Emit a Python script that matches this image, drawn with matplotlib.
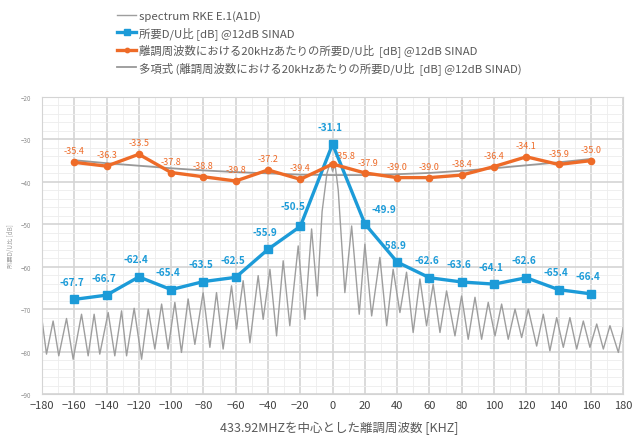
import matplotlib
matplotlib.use("Agg")
import matplotlib.pyplot as plt
from matplotlib.ticker import MultipleLocator

plt.rcParams['font.family'] = ['Noto Sans CJK JP', 'DejaVu Sans']

spec_x = [-180, -177.2, -173.1, -169.6, -164.8, -160.7, -155.5, -151.4, -147.7, -144.2,
          -139.0, -134.9, -130.7, -127.6, -122.9, -118.3, -114.2, -110.1, -105.9, -101.9,
          -97.7, -93.6, -89.5, -85.3, -80.2, -76.0, -71.9, -67.8, -62.6, -59.5,
          -55.4, -51.2, -46.1, -43.0, -38.8, -34.7, -30.6, -26.5, -21.3, -17.2,
          -13.0, -9.5, -6.5, -3.5, -1.5, 0, 1.5, 3.5, 7.6, 11.8,
          16.5, 20.0, 24.2, 29.3, 33.5, 37.5, 41.7, 45.8, 49.9, 54.1,
          58.2, 62.3, 66.5, 70.6, 75.8, 79.9, 84.0, 88.2, 92.3, 96.4,
          100.6, 104.7, 108.8, 113.0, 117.1, 121.2, 126.4, 130.5, 134.6, 138.8,
          142.9, 147.0, 151.2, 155.3, 159.4, 163.6, 167.7, 171.8, 177.0, 180]
spec_y = [-72.4, -80.6, -72.8, -81.0, -72.2, -81.8, -71.2, -81.0, -71.2, -80.6,
          -70.8, -81.0, -70.4, -81.0, -69.8, -81.8, -70.0, -79.4, -68.8, -79.4,
          -68.4, -80.2, -67.6, -78.3, -66.1, -79.0, -66.1, -79.4, -64.5, -74.7,
          -63.3, -77.9, -62.1, -72.4, -60.6, -76.3, -58.6, -73.9, -55.1, -72.4,
          -51.1, -66.9, -47.0, -38.0, -35.5, -37.5, -35.8, -42.0, -66.1, -50.4,
          -71.2, -54.7, -71.6, -57.8, -73.9, -60.6, -70.8, -61.3, -75.5, -62.9,
          -73.9, -64.1, -75.5, -65.7, -76.3, -66.9, -77.1, -67.2, -77.1, -68.4,
          -76.3, -68.8, -77.1, -70.0, -76.7, -70.0, -78.7, -71.2, -79.8, -72.0,
          -79.0, -72.0, -79.4, -72.8, -79.0, -73.5, -79.4, -73.9, -80.2, -74.3]

offsets = [-160, -140, -120, -100, -80, -60, -40, -20, 0,
           20, 40, 60, 80, 100, 120, 140, 160]
du_ratio = [-67.7, -66.7, -62.4, -65.4, -63.5, -62.5, -55.9, -50.5, -31.1,
            -49.9, -58.9, -62.6, -63.6, -64.1, -62.6, -65.4, -66.4]
du_per20k = [-35.4, -36.3, -33.5, -37.8, -38.8, -39.8, -37.2, -39.4, -35.8,
             -37.9, -39.0, -39.0, -38.4, -36.4, -34.1, -35.9, -35.0]
trend = [-34.9, -35.6, -36.2, -36.8, -37.3, -37.7, -38.0, -38.3, -38.4,
         -38.4, -38.2, -37.9, -37.4, -36.8, -36.1, -35.4, -34.6]

BLUE = '#1c9bd8'
ORANGE = '#ee6b28'

fig = plt.figure(figsize=(6.38, 4.39), dpi=100)
ax = fig.add_axes([0.0658, 0.1002, 0.911, 0.6766])

l1, = ax.plot(spec_x, spec_y, color='#9e9e9e', lw=1.0,
              label='spectrum RKE E.1(A1D)')
l2, = ax.plot(offsets, du_ratio, color=BLUE, lw=2.4, marker='s', ms=6,
              label='所要D/U比 [dB] @12dB SINAD', zorder=4)
l3, = ax.plot(offsets, du_per20k, color=ORANGE, lw=2.4, marker='o', ms=4.5,
              label='離調周波数における20kHzあたりの所要D/U比  [dB] @12dB SINAD', zorder=4)
l4, = ax.plot(offsets, trend, color='#999999', lw=1.3,
              label='多項式 (離調周波数における20kHzあたりの所要D/U比  [dB] @12dB SINAD)', zorder=3)

for x, v in zip(offsets, du_ratio):
    dx, dy = -2, 9
    if x == 20:
        dx, dy = 14, 7
    elif x == -20:
        dx, dy = -5, 11
    ax.annotate(f'{v:.1f}', (x, v), xytext=(dx, dy), textcoords='offset points',
                ha='center', va='bottom', color=BLUE, fontsize=7.2, fontweight='bold')

for x, v in zip(offsets, du_per20k):
    dx, dy = 0, 5
    if x == 0:
        dx, dy = 9, 3
    elif x == 20:
        dx, dy = 2, 4
    ax.annotate(f'{v:.1f}', (x, v), xytext=(dx, dy), textcoords='offset points',
                ha='center', va='bottom', color=ORANGE, fontsize=6.5)

ax.set_xlim(-180, 180)
ax.set_ylim(-90, -20)
ax.xaxis.set_major_locator(MultipleLocator(20))
ax.xaxis.set_minor_locator(MultipleLocator(10))
ax.yaxis.set_major_locator(MultipleLocator(10))
ax.yaxis.set_minor_locator(MultipleLocator(2))
ax.grid(which='major', color='#d4d4d4', lw=1.2)
ax.grid(which='minor', color='#ededed', lw=0.6)
ax.set_axisbelow(True)
for sp in ax.spines.values():
    sp.set_color('#d4d4d4')
ax.tick_params(which='both', length=0)
ax.tick_params(axis='y', labelsize=4.5, labelcolor='#8c8c8c', pad=8)
ax.tick_params(axis='x', labelsize=8, labelcolor='#404040', pad=4)

ax.set_ylabel('所要D/U比 [dB]', fontsize=4.5, color='#a0a0a0', labelpad=4)
fig.text(339 / 638, 1 - 428 / 439, '433.92MHZを中心とした離調周波数 [KHZ]',
         fontsize=9, color='#595959', ha='center', va='center')

fig.legend(handles=[l1, l2, l3, l4], loc='upper left', bbox_to_anchor=(0.168, 0.998),
           frameon=False, fontsize=8.2, labelcolor='#595959', handlelength=1.6,
           handletextpad=0.3, labelspacing=0.42, markerscale=0.7)

fig.savefig('out.png', dpi=100)
